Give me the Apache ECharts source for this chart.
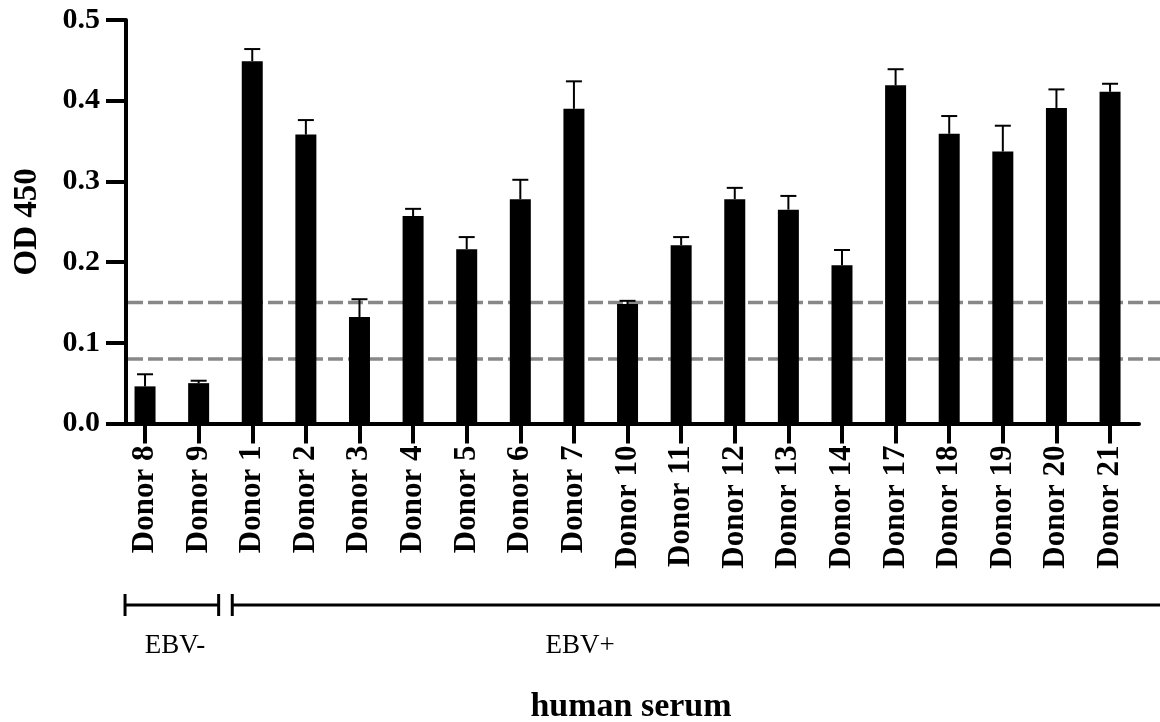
<!DOCTYPE html>
<html>
<head>
<meta charset="utf-8">
<script src="https://cdn.jsdelivr.net/npm/echarts@6/dist/echarts.min.js"></script>
<style>
html,body{margin:0;padding:0;background:#fff;}
#c{width:1160px;height:722px;}
</style>
</head>
<body>
<div id="c"></div>
<script>
const categories = ['Donor 8','Donor 9','Donor 1','Donor 2','Donor 3','Donor 4','Donor 5','Donor 6','Donor 7','Donor 10','Donor 11','Donor 12','Donor 13','Donor 14','Donor 17','Donor 18','Donor 19','Donor 20','Donor 21'];
const meanOD = [0.046,0.050,0.449,0.358,0.132,0.257,0.216,0.278,0.390,0.148,0.221,0.278,0.265,0.196,0.419,0.359,0.337,0.391,0.411];
const errOD  = [0.015,0.003,0.015,0.018,0.022,0.009,0.015,0.024,0.034,0.004,0.010,0.014,0.017,0.019,0.020,0.022,0.032,0.023,0.010];
const thresholds = [0.15, 0.08];
const yTicks = [0, 0.1, 0.2, 0.3, 0.4, 0.5];
const groupLabels = ['EBV-', 'EBV+'];
const groupStart = [0, 2];
const groupEnd = [1, 18];

const SERIF = '"Liberation Serif", "Times New Roman", serif';
const idx = categories.map((_, i) => i);

const chart = echarts.init(document.getElementById('c'), null, {renderer: 'canvas'});

const option = {
  animation: false,
  backgroundColor: '#fff',
  grid: {left: 126, right: 21, top: 20, bottom: 298.5, containLabel: false},
  xAxis: {
    type: 'value',
    min: -0.355,
    max: 18.54,
    splitLine: {show: false},
    axisLine: {show: true, onZero: false, lineStyle: {color: '#000', width: 4}},
    axisTick: {show: true, customValues: idx, length: 20, lineStyle: {color: '#000', width: 4}},
    axisLabel: {
      show: true,
      customValues: idx,
      rotate: 90,
      margin: 22,
      formatter: v => categories[Math.round(v)] || '',
      fontFamily: SERIF, fontWeight: 'bold', fontSize: 31, color: '#000'
    }
  },
  yAxis: {
    type: 'value',
    min: 0, max: 0.5, interval: 0.1,
    name: 'OD 450',
    nameLocation: 'middle',
    nameRotate: 90,
    nameGap: 82,
    nameTextStyle: {fontFamily: SERIF, fontWeight: 'bold', fontSize: 33, color: '#000'},
    splitLine: {show: false},
    axisLine: {show: true, onZero: false, lineStyle: {color: '#000', width: 4}},
    axisTick: {show: true, length: 20, lineStyle: {color: '#000', width: 4}},
    axisLabel: {
      margin: 26,
      formatter: v => v.toFixed(1),
      fontFamily: SERIF, fontWeight: 'bold', fontSize: 30, color: '#000'
    }
  },
  series: [
    {
      type: 'bar',
      barWidth: 21,
      itemStyle: {color: '#000'},
      data: meanOD.map((v, i) => [i, v]),
      z: 2
    },
    {
      type: 'custom',
      z: 3,
      data: meanOD.map((v, i) => [i, v, v + errOD[i]]),
      renderItem: function (params, api) {
        const i = api.value(0);
        const base = api.coord([i, api.value(1)]);
        const top = api.coord([i, api.value(2)]);
        const hw = 8;
        return {
          type: 'group',
          children: [
            {type: 'line', shape: {x1: base[0], y1: base[1], x2: top[0], y2: top[1]}, style: {stroke: '#000', lineWidth: 2}},
            {type: 'line', shape: {x1: top[0] - hw, y1: top[1], x2: top[0] + hw, y2: top[1]}, style: {stroke: '#000', lineWidth: 2}}
          ]
        };
      }
    }
  ]
};
chart.setOption(option);

// annotations derived from the axis scales
const xPix = i => chart.convertToPixel({xAxisIndex: 0}, i);
const yPix = v => chart.convertToPixel({yAxisIndex: 0}, v);
const graphics = [];
const axisLeft = 126;
thresholds.forEach(t => {
  const y = yPix(t);
  graphics.push({
    type: 'line', z: 1,
    shape: {x1: axisLeft + 2, y1: y, x2: 1160, y2: y},
    style: {stroke: '#888', lineWidth: 3.5, lineDash: [15, 5]}
  });
});
const bracketY = 605;
const capH = 11;
groupLabels.forEach((lab, g) => {
  const x1 = xPix(groupStart[g]) - 20;
  const x2 = g === groupLabels.length - 1 ? 1165 : xPix(groupEnd[g]) + 20;
  graphics.push({type: 'line', shape: {x1: x1, y1: bracketY, x2: x2, y2: bracketY}, style: {stroke: '#000', lineWidth: 3}});
  graphics.push({type: 'line', shape: {x1: x1, y1: bracketY - capH, x2: x1, y2: bracketY + capH}, style: {stroke: '#000', lineWidth: 3}});
  if (g !== groupLabels.length - 1) {
    graphics.push({type: 'line', shape: {x1: x2, y1: bracketY - capH, x2: x2, y2: bracketY + capH}, style: {stroke: '#000', lineWidth: 3}});
  }
});
const groupTextX = [175, 580];
groupLabels.forEach((lab, g) => {
  graphics.push({
    type: 'text', x: groupTextX[g], y: 646,
    style: {text: lab, fontFamily: SERIF, fontSize: 27, fill: '#000', align: 'center', verticalAlign: 'middle'}
  });
});
graphics.push({
  type: 'text', x: 631, y: 707,
  style: {text: 'human serum', fontFamily: SERIF, fontWeight: 'bold', fontSize: 34, fill: '#000', align: 'center', verticalAlign: 'middle'}
});
chart.setOption({graphic: graphics});
</script>
</body>
</html>
